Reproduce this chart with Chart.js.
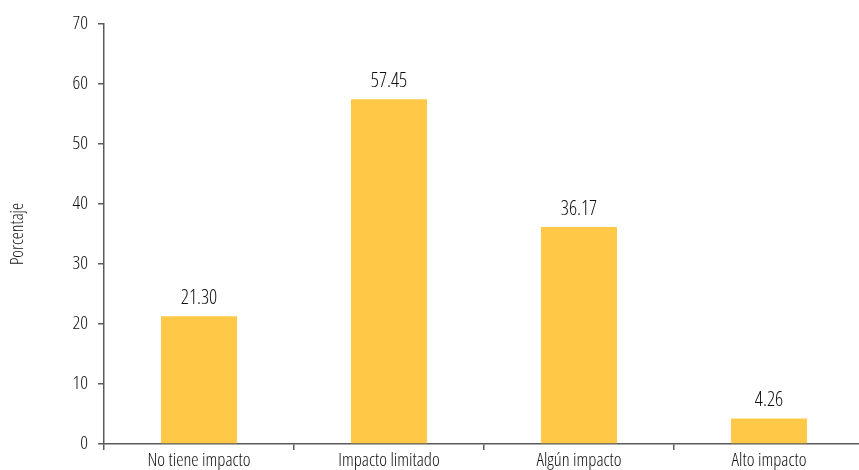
<!DOCTYPE html>
<html>
<head>
<meta charset="utf-8">
<script src="https://cdn.jsdelivr.net/npm/chart.js@4.4.0/dist/chart.umd.min.js"></script>
<style>
  html, body { margin: 0; padding: 0; background: #fff; overflow: hidden; }
  #wrap { position: relative; width: 870px; height: 470px; }
</style>
</head>
<body>
<div id="wrap"><canvas id="chart"></canvas></div>
<script>
  // datos
  const categories = ['No tiene impacto', 'Impacto limitado', 'Algún impacto', 'Alto impacto'];
  const values = [21.30, 57.45, 36.17, 4.26];
  const yTitle = 'Porcentaje';

  // fuente condensada (peso + font-stretch via el campo weight de Chart.js)
  const FONT = "'Open Sans', sans-serif";
  const STRETCH = '350 condensed';
  const AXIS = '#5a5a5a';
  const TEXT = '#111111';

  // etiquetas sobre las barras
  const barLabels = {
    id: 'barLabels',
    afterDatasetsDraw(chart) {
      const ctx = chart.ctx;
      const meta = chart.getDatasetMeta(0);
      ctx.save();
      ctx.font = STRETCH + ' 20px ' + FONT;
      ctx.fillStyle = TEXT;
      ctx.textAlign = 'center';
      ctx.textBaseline = 'bottom';
      meta.data.forEach((bar, i) => {
        ctx.fillText(values[i].toFixed(2), bar.x, bar.y - 8);
      });
      ctx.restore();
    }
  };

  new Chart(document.getElementById('chart'), {
    type: 'bar',
    data: {
      labels: categories,
      datasets: [{
        data: values,
        backgroundColor: '#FFC947',
        borderWidth: 0,
        barPercentage: 0.4,
        categoryPercentage: 1.0
      }]
    },
    options: {
      responsive: true,
      maintainAspectRatio: false,
      animation: false,
      layout: { padding: { top: 24, right: 6, left: 0, bottom: 0 } },
      plugins: { legend: { display: false }, tooltip: { enabled: false } },
      scales: {
        x: {
          afterFit: (s) => { s.height = 26; },
          border: { color: AXIS, width: 1.5 },
          grid: { display: true, drawOnChartArea: false, drawTicks: true, tickLength: 6, color: AXIS, lineWidth: 1.5, offset: true },
          ticks: { color: TEXT, font: { family: FONT, weight: STRETCH, size: 18.5 }, padding: 0, maxRotation: 0, autoSkip: false }
        },
        y: {
          min: 0, max: 70,
          afterFit: (s) => { s.width = 104; },
          border: { color: AXIS, width: 1.5 },
          grid: { display: true, drawOnChartArea: false, drawTicks: true, tickLength: 6, color: AXIS, lineWidth: 1.5 },
          ticks: { stepSize: 10, color: TEXT, font: { family: FONT, weight: STRETCH, size: 19 }, padding: 10 },
          title: { display: true, text: yTitle, color: TEXT, font: { family: FONT, weight: STRETCH, size: 18 }, padding: { top: 7, bottom: 0 } }
        }
      }
    },
    plugins: [barLabels]
  });
</script>
</body>
</html>
